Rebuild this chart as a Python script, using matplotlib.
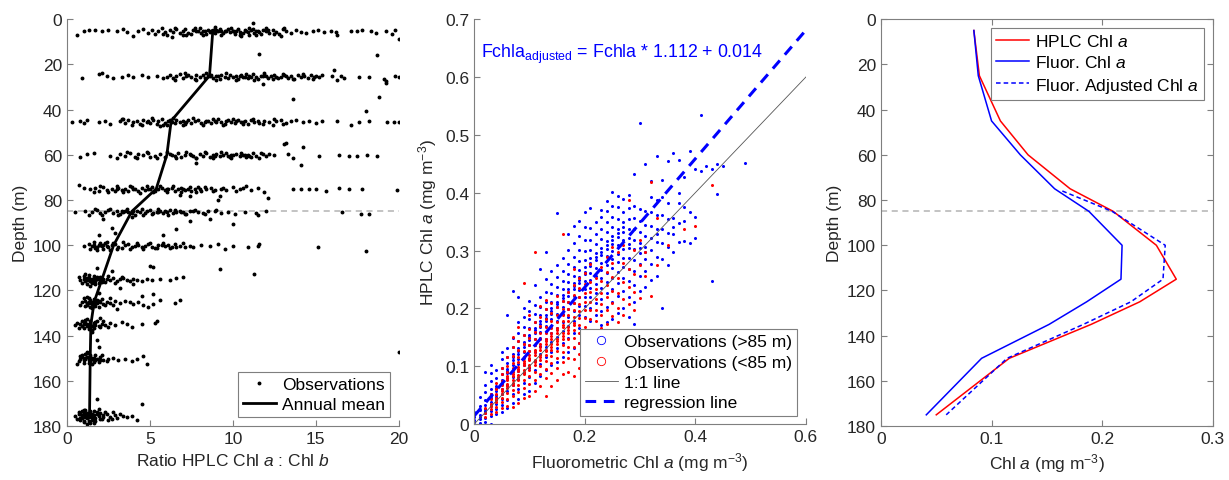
import matplotlib
matplotlib.use("Agg")
import matplotlib.pyplot as plt
from matplotlib.lines import Line2D

plt.rcParams['font.family'] = ['Liberation Sans', 'DejaVu Sans']
plt.rcParams['mathtext.fontset'] = 'custom'
plt.rcParams['mathtext.rm'] = 'Liberation Sans'
plt.rcParams['mathtext.it'] = 'Liberation Sans:italic'
plt.rcParams['font.size'] = 12.5

# ---- left panel: Chl a : Chl b ratio observations (ratio, depth) ----
obs_5 = [(0.6,6.8),(1.0,5.2),(1.3,4.6),(1.7,4.9),(2.1,5.1),(2.5,4.7),(3.0,5.0),(3.4,4.4),(3.6,5.6),(4.0,7.3),
         (4.3,5.0),(4.6,4.2),(4.9,5.9),(5.1,4.6),(5.3,6.4),(5.5,5.2),(5.7,3.9),(5.9,5.5),(6.0,7.0),(6.2,4.8),
         (6.4,5.8),(6.6,4.3),(6.8,6.1),(7.0,5.0),(7.1,4.5),(7.3,5.9),(7.5,6.4),(7.6,4.7),(7.8,5.4),(8.0,4.1),
         (8.1,6.0),(8.3,5.1),(8.5,4.6),(8.6,5.7),(8.8,4.9),(8.9,6.3),(9.1,5.3),(9.2,4.4),(9.4,6.1),(9.5,5.0),
         (9.7,4.2),(9.8,5.8),(10.0,5.1),(10.1,6.7),(10.3,4.5),(10.4,5.5),(10.6,6.2),(10.7,4.8),(10.9,5.6),(11.0,7.2),
         (11.2,4.3),(11.3,5.9),(11.5,5.0),(11.7,6.5),(11.8,4.6),(12.0,5.4),(12.2,6.0),(12.4,4.9),(12.6,5.6),(12.8,6.6),
         (13.0,4.5),(13.2,5.3),(13.5,5.9),(13.8,4.8),(14.1,5.5),(14.4,6.0),(14.8,5.0),(15.1,4.6),(15.5,5.7),(15.9,5.2),
         (16.2,5.5),(16.3,6.9),(17.1,5.0),(17.5,5.1),(17.8,4.7),(18.3,5.4),(18.6,5.9),(19.2,5.2),(19.6,6.6),(19.8,4.9),
         (20.0,8.6),(8.7,5.2),(9.0,4.6),(9.6,5.4),(10.2,5.0),(10.8,5.3),(11.1,4.9),(11.6,5.5),(12.1,4.7),(7.9,5.0),
         (8.4,6.6),(10.5,7.6),(12.9,7.3),(7.2,7.1),(6.3,7.9),(11.2,1.8),(11.6,15.3),(18.7,15.8),
         (7.0,6.8),(7.7,3.7),(8.2,6.9),(8.9,3.6),(9.3,7.0),(9.9,3.8),(10.4,6.8),(11.0,3.9),(11.4,6.9),(12.0,3.9),
         (12.5,6.4),(13.1,4.1),(6.5,3.8),(5.8,6.6),(10.0,5.4),(9.3,5.2),(8.2,5.3),(11.4,5.1)]
obs_25 = [(0.9,25.8),(1.9,24.4),(2.1,23.9),(2.4,25.2),(2.8,25.9),(3.3,25.4),(3.7,24.9),(4.0,25.5),(4.5,24.8),(4.9,25.6),
          (5.4,25.0),(5.8,26.2),(6.0,25.4),(6.2,24.6),(6.4,25.8),(6.6,25.1),(6.8,24.3),(7.0,26.0),(7.2,25.3),(7.3,24.7),
          (7.5,25.6),(7.7,26.4),(7.8,24.9),(8.0,25.5),(8.2,24.5),(8.3,26.1),(8.5,25.2),(8.7,24.8),(8.8,25.9),(9.0,25.3),
          (9.2,26.6),(9.3,24.6),(9.5,25.4),(9.7,26.0),(9.8,24.9),(10.0,25.6),(10.2,25.1),(10.3,26.3),(10.5,24.7),(10.7,25.5),
          (10.9,26.1),(11.0,25.0),(11.2,24.4),(11.4,25.7),(11.5,26.5),(11.7,25.2),(11.9,24.8),(12.1,25.9),(12.3,25.3),(12.5,24.5),
          (12.7,26.0),(12.9,25.4),(13.1,24.9),(13.3,25.8),(13.5,25.1),(13.7,26.3),(13.9,24.6),(14.1,25.5),(14.3,25.0),(14.5,26.1),
          (14.7,24.7),(14.9,25.4),(15.2,25.7),(15.4,24.5),(16.0,25.3),(16.3,26.8),(16.5,25.0),(16.7,25.9),(17.6,25.4),(18.2,25.6),
          (19.1,26.4),(19.8,25.2),(20.0,25.6),(9.1,25.0),(10.4,25.2),(11.1,25.6),(11.8,25.1),(12.6,25.5),(8.6,25.3),(13.2,25.2),
          (11.8,28.8),(16.1,22.4),(19.2,27.2),(19.2,28.3),(13.6,35.3),(18.8,34.6),(18.0,40.5),
          (6.5,26.7),(7.1,24.0),(7.8,26.8),(8.4,23.9),(9.0,26.7),(9.6,24.0),(10.2,26.9),(10.8,24.1),(11.3,26.8),(11.9,24.0),
          (12.4,26.6),(13.0,24.2),(13.6,26.6),(14.2,24.3),(14.8,26.3),(15.0,25.1),(12.0,25.3),(10.6,25.4)]
obs_45 = [(0.3,45.6),(0.8,44.9),(1.0,45.9),(1.2,44.6),(1.9,45.5),(2.3,44.9),(2.6,46.4),(3.2,45.1),(3.4,44.2),(3.5,46.0),
          (3.7,44.7),(4.0,45.6),(4.2,45.0),(4.4,46.3),(4.6,44.6),(4.8,45.4),(5.0,45.9),(5.2,44.5),(5.4,46.2),(5.5,45.1),
          (5.7,44.3),(5.9,45.7),(6.0,46.6),(6.2,44.8),(6.3,45.3),(6.5,46.0),(6.6,44.4),(6.8,45.5),(7.0,45.0),(7.1,46.3),
          (7.3,44.7),(7.5,45.8),(7.7,45.2),(7.9,44.5),(8.1,46.0),(8.3,45.4),(8.5,44.9),(8.7,45.9),(8.9,45.1),(9.1,44.3),
          (9.3,45.6),(9.5,46.4),(9.7,44.8),(9.9,45.3),(10.1,46.1),(10.3,44.6),(10.5,45.5),(10.7,45.0),(10.9,46.2),(11.1,44.7),
          (11.3,45.4),(11.6,45.9),(11.9,44.9),(12.2,45.6),(12.4,47.0),(12.6,45.2),(12.9,44.6),(13.2,45.7),(13.5,45.1),(13.8,44.5),
          (14.2,45.5),(14.6,45.0),(15.0,45.7),(15.4,45.2),(16.3,45.0),(17.1,47.0),(17.6,45.5),(18.2,45.2),(19.3,45.3),(19.7,45.6),
          (20.0,45.4),(6.1,45.2),(7.2,45.4),(8.4,45.0),(9.6,45.2),(10.6,45.3),(4.9,44.9),(5.6,47.2),(13.2,54.9),(14.2,56.5),
          (4.5,46.9),(5.1,43.9),(5.8,46.8),(6.4,43.8),(7.0,46.9),(7.6,43.9),(8.2,46.7),(8.8,44.0),(9.4,46.6),(10.0,44.1),
          (10.6,46.5),(11.2,44.2),(11.8,46.4),(12.5,44.3),(13.0,46.2),(9.0,45.5),(10.2,45.0),(11.5,45.2),(3.9,46.7),(3.3,44.1)]
obs_60 = [(0.8,61.1),(1.2,59.6),(1.6,59.0),(2.6,60.3),(3.2,59.7),(3.5,60.6),(3.8,59.2),(4.1,60.9),(4.3,59.5),(4.6,60.2),
          (4.9,59.0),(5.0,61.1),(5.3,60.4),(5.6,59.6),(5.9,60.8),(6.2,59.8),(6.5,60.5),(6.7,59.3),(6.9,60.9),(7.1,60.1),
          (7.4,59.5),(7.6,60.6),(7.8,61.5),(8.0,59.8),(8.2,60.4),(8.4,59.3),(8.6,60.9),(8.8,60.0),(9.0,59.5),(9.2,60.7),
          (9.4,60.2),(9.6,59.4),(9.8,60.8),(10.0,60.1),(10.2,59.6),(10.4,60.5),(10.6,59.9),(10.8,60.9),(11.0,60.3),(11.2,59.2),
          (11.4,60.7),(11.6,61.2),(11.8,59.8),(12.0,60.4),(12.2,59.6),(12.5,60.2),(13.1,55.0),(13.3,59.5),(13.6,61.3),(14.1,64.7),
          (15.2,60.5),(16.4,60.2),(17.0,60.6),(17.5,60.4),(18.1,60.0),(18.7,60.3),(7.8,63.5),(8.9,60.3),(9.9,59.9),(10.9,60.2),
          (3.0,61.4),(3.6,58.8),(4.2,61.6),(4.8,58.7),(5.4,61.5),(6.0,58.9),(6.6,61.4),(7.2,58.8),(7.8,61.3),(8.3,58.9),
          (8.8,61.2),(9.3,58.9),(9.9,61.2),(10.5,59.1),(11.1,61.0),(11.7,59.3),(6.3,60.2),(7.5,60.0),(9.7,60.4),(10.7,60.0)]
obs_75 = [(0.7,73.5),(1.0,74.8),(1.4,75.3),(1.7,74.5),(1.9,75.9),(2.2,74.2),(2.4,75.4),(2.7,75.0),(2.9,76.1),(3.1,74.6),
          (3.3,75.5),(3.5,74.9),(3.7,75.8),(3.9,74.3),(4.1,75.2),(4.3,76.0),(4.5,74.7),(4.7,75.6),(4.9,75.0),(5.1,74.4),
          (5.3,75.9),(5.5,75.3),(5.7,74.8),(5.9,75.7),(6.1,75.1),(6.3,74.5),(6.5,76.2),(6.7,75.0),(6.9,74.6),(7.1,75.5),
          (7.3,74.9),(7.5,76.0),(7.7,75.2),(7.9,74.4),(8.1,75.8),(8.4,75.1),(8.7,74.6),(8.9,75.5),(9.1,80.0),(9.2,78.3),
          (9.3,75.0),(9.6,75.6),(10.0,74.2),(10.4,75.3),(10.8,73.9),(11.1,75.4),(11.5,74.7),(11.9,76.4),(12.1,79.0),(13.6,75.0),
          (14.1,75.0),(14.6,75.3),(15.0,75.1),(15.6,75.8),(16.4,74.6),(17.0,74.9),(17.8,75.0),(19.9,75.5),(7.4,78.2),(6.8,77.6),
          (5.0,75.3),(6.0,74.9),(7.0,75.2),(8.0,75.0),(4.0,74.9),(3.0,75.2),
          (1.6,76.4),(2.0,73.9),(2.5,76.6),(3.0,73.8),(3.4,76.5),(3.8,73.9),(4.4,76.7),(4.8,74.0),(5.2,76.4),(5.6,73.7),
          (6.0,76.5),(6.4,74.0),(6.9,76.3),(7.4,74.1),(7.8,76.4),(8.3,74.2),(8.8,76.1),(9.4,74.5),(10.2,76.0),(10.6,74.6)]
obs_85 = [(0.5,85.5),(1.1,85.0),(1.5,85.3),(1.8,84.6),(2.0,85.8),(2.3,85.2),(2.5,84.4),(2.8,85.6),(3.0,85.0),(3.2,86.2),
          (3.5,84.7),(3.7,85.4),(3.9,85.9),(4.2,84.8),(4.4,85.3),(4.6,86.4),(4.8,85.0),(5.0,84.5),(5.2,85.7),(5.4,85.1),
          (5.6,84.8),(5.8,85.6),(6.0,85.2),(6.2,84.6),(6.4,85.8),(6.6,85.1),(6.8,84.7),(7.0,85.5),(7.2,86.0),(7.4,85.0),
          (7.6,84.8),(7.9,85.4),(8.2,85.9),(8.5,85.0),(8.9,84.9),(9.3,85.6),(9.7,85.1),(10.1,86.2),(10.7,85.3),(11.4,85.8),
          (11.5,86.7),(12.0,85.0),(16.6,85.4),(17.7,86.0),(18.2,86.2),(2.2,88.3),(3.9,87.6),(7.4,89.2),(8.6,88.5),(10.0,90.5),
          (2.7,92.2),(6.6,92.7),(2.9,94.4),(1.9,95.5),(5.8,95.3),(3.4,85.2),(4.0,85.0),(5.5,85.3),(6.5,85.0),
          (1.3,86.4),(1.7,84.0),(2.1,86.6),(2.6,83.9),(3.1,86.5),(3.6,84.0),(4.1,86.7),(4.5,84.1),(5.1,86.3),(5.5,84.0),
          (6.1,86.5),(6.5,84.2),(7.1,86.2),(7.7,84.3),(8.3,86.1),(9.0,84.5),(3.3,84.9),(4.7,85.6),(5.9,85.0),(6.9,85.3)]
obs_100 = [(1.0,100.5),(1.3,99.5),(1.5,100.2),(1.7,101.0),(1.9,99.7),(2.1,100.4),(2.3,99.2),(2.5,100.8),(2.7,100.1),(2.9,99.6),
           (3.1,100.6),(3.3,101.2),(3.5,100.0),(3.7,99.4),(3.9,100.7),(4.1,100.2),(4.3,99.8),(4.5,100.9),(4.7,100.3),(4.9,99.5),
           (5.1,100.6),(5.3,101.3),(5.5,100.1),(5.7,99.7),(5.9,100.5),(6.1,100.0),(6.3,100.8),(6.5,99.6),(6.8,100.3),(7.1,100.9),
           (7.4,100.2),(8.1,100.0),(8.6,100.3),(9.1,99.5),(9.5,101.5),(10.0,100.5),(10.9,100.7),(11.5,100.5),(11.6,99.5),(15.1,100.9),
           (18.0,102.5),(9.2,110.3),(11.3,112.5),(5.2,109.7),(5.0,109.0),(1.6,99.9),(2.0,100.1),(2.4,100.3),(1.8,100.6),(2.2,99.8),
           (1.4,101.8),(1.6,98.6),(1.8,102.0),(2.0,98.8),(2.2,101.6),(2.4,98.5),(2.6,101.9),(2.8,98.9),(3.0,101.7),(3.4,98.7),
           (3.8,101.5),(4.2,98.9),(4.6,101.6),(5.0,98.8),(5.4,101.4),(5.8,99.0),(6.2,101.3),(6.6,100.9),(7.0,99.2),(7.6,100.6)]
obs_115 = [(0.8,115.5),(1.0,114.8),(1.1,115.9),(1.2,115.2),(1.3,114.6),(1.4,116.0),(1.5,115.3),(1.6,114.9),(1.7,115.7),(1.8,115.0),
           (1.9,114.4),(2.0,115.6),(2.1,116.2),(2.2,115.1),(2.4,114.7),(2.6,115.5),(2.8,114.5),(3.0,115.8),(3.2,115.0),(3.4,114.6),
           (3.6,115.4),(3.8,115.9),(4.0,114.8),(4.2,115.3),(4.5,115.6),(4.8,114.7),(5.1,115.2),(5.6,115.0),(6.2,115.3),(6.6,114.5),
           (7.0,114.2),(1.8,110.0),(2.7,111.5),(4.0,117.2),(3.2,119.1),(1.1,115.0),(1.3,115.4),(1.5,114.7),(1.2,114.3),(1.4,115.6),
           (0.9,116.8),(1.0,113.6),(1.2,117.0),(1.3,113.2),(1.5,116.6),(1.6,113.7),(1.7,117.2),(1.9,116.5),(2.0,113.9),(2.3,116.4),
           (2.5,113.6),(0.7,114.2),(1.1,112.8),(1.4,117.8),(2.9,116.6),(3.3,113.9),(1.6,116.0),(1.8,114.0)]
obs_125 = [(0.9,125.3),(1.1,124.7),(1.2,125.6),(1.3,125.0),(1.4,124.4),(1.5,125.8),(1.6,125.2),(1.7,124.8),(1.8,125.5),(1.9,124.6),
           (2.0,125.1),(2.2,125.9),(2.4,124.9),(2.6,125.4),(2.9,124.7),(3.2,125.6),(3.5,124.5),(3.8,125.2),(4.0,126.0),(4.3,125.3),
           (4.6,126.3),(5.2,126.0),(5.6,124.2),(6.5,125.5),(6.8,124.4),(4.5,122.5),(5.2,121.5),(3.0,128.0),(1.9,121.0),(4.9,127.5),
           (1.3,125.5),(1.5,124.9),(1.6,125.6),(1.4,125.1),
           (0.8,126.6),(1.0,123.5),(1.1,126.9),(1.3,123.2),(1.4,127.1),(1.6,123.6),(1.7,126.7),(1.9,127.3),(2.1,123.8),(2.3,126.5),
           (2.6,123.4),(1.2,122.7),(1.5,127.8),(2.8,126.4),(1.8,124.0),(1.2,126.2)]
obs_135 = [(0.5,135.3),(0.8,134.7),(0.9,135.6),(1.0,135.0),(1.1,134.4),(1.2,135.8),(1.3,135.2),(1.4,134.8),(1.5,135.5),(1.6,134.6),
           (1.7,135.1),(1.9,135.7),(2.1,134.9),(2.3,135.4),(2.6,134.5),(2.9,135.2),(3.3,133.8),(3.6,134.9),(3.9,136.0),(4.5,135.0),
           (5.3,134.5),(5.4,133.7),(1.5,138.5),(1.8,142.0),(2.0,132.0),(1.2,134.9),(1.3,135.6),(1.4,135.3),
           (0.7,136.5),(0.9,133.4),(1.0,136.8),(1.1,133.0),(1.3,137.0),(1.4,133.5),(1.6,136.6),(1.8,133.7),(2.0,136.3),(2.2,133.6),
           (2.5,136.2),(1.2,132.6),(1.5,137.6),(0.6,134.2),(1.7,134.0)]
obs_150 = [(0.6,152.5),(0.8,150.3),(0.9,149.6),(1.0,150.9),(1.1,150.1),(1.2,149.4),(1.3,150.6),(1.4,151.2),(1.5,150.0),(1.6,149.7),
           (1.7,150.8),(1.8,150.2),(2.0,149.5),(2.2,150.7),(2.5,150.1),(2.8,149.8),(3.1,150.9),(3.5,150.4),(3.9,151.0),(4.2,150.5),
           (4.8,152.3),(4.6,149.0),(1.2,147.5),(1.9,145.0),(20.0,147.0),(1.3,150.0),(1.5,150.5),(1.1,149.9),
           (0.7,151.4),(0.9,148.4),(1.0,151.9),(1.1,148.0),(1.3,152.1),(1.4,148.5),(1.6,151.6),(1.7,148.7),(1.9,151.5),(2.1,148.6),
           (2.4,151.3),(1.2,147.0),(1.5,152.6),(2.0,150.9),(0.8,149.0)]
obs_175 = [(0.5,175.5),(0.7,174.6),(0.8,176.2),(0.9,175.0),(1.0,174.2),(1.1,175.8),(1.2,176.6),(1.3,175.2),(1.4,174.4),(1.5,175.9),
           (1.6,175.0),(1.7,176.3),(1.8,174.7),(1.9,175.5),(2.0,177.0),(2.2,175.2),(2.4,174.5),(2.6,175.8),(2.9,175.1),(3.2,174.7),
           (3.6,176.0),(3.9,175.4),(4.2,177.2),(2.7,176.8),(1.0,173.0),(1.6,178.5),(1.2,179.0),(1.9,172.5),(4.5,170.0),(1.8,168.0),
           (1.1,174.9),(1.3,176.0),(1.5,174.8),(1.4,175.6),(1.2,175.3),(0.9,176.4),
           (0.6,176.8),(0.7,173.6),(0.8,177.5),(0.9,173.3),(1.0,177.8),(1.1,172.9),(1.3,177.6),(1.4,173.1),(1.5,177.4),(1.6,173.4),
           (1.7,177.9),(1.8,173.6),(2.0,174.0),(2.1,176.7),(2.3,173.8),(2.5,177.1),(2.8,173.9),(3.0,176.5),(3.4,175.6),(1.2,174.0),
           (1.6,176.8),(0.8,174.5),(2.2,176.0),(1.0,178.3),(1.4,178.8)]

mean_depth = [5, 25, 45, 60, 75, 85, 100, 115, 125, 135, 150, 175]
mean_ratio = [8.79, 8.59, 6.28, 6.02, 5.38, 3.91, 2.81, 2.11, 1.64, 1.44, 1.40, 1.36]

# ---- middle panel: columns of (fluorometric Chl a, [HPLC Chl a values]) ----
deep_cols = [
    (0.00, [0.003, 0.012, 0.021, 0.008]),
    (0.01, [0.002, 0.009, 0.016, 0.024, 0.031, 0.047, 0.013]),
    (0.02, [0.004, 0.011, 0.019, 0.027, 0.034, 0.042, 0.055, 0.068, 0.091, 0.023]),
    (0.03, [0.0, 0.014, 0.022, 0.031, 0.038, 0.045, 0.053, 0.061, 0.074, 0.088, 0.102, 0.049]),
    (0.04, [0.018, 0.026, 0.035, 0.043, 0.051, 0.058, 0.066, 0.079, 0.093, 0.047, 0.062]),
    (0.05, [0.021, 0.033, 0.044, 0.052, 0.061, 0.069, 0.077, 0.086, 0.098, 0.112, 0.125, 0.072]),
    (0.06, [0.028, 0.041, 0.057, 0.068, 0.079, 0.088, 0.096, 0.105, 0.117, 0.131, 0.188, 0.092]),
    (0.07, [0.036, 0.052, 0.067, 0.081, 0.093, 0.102, 0.111, 0.121, 0.134, 0.149, 0.231, 0.116]),
    (0.08, [0.044, 0.061, 0.078, 0.092, 0.104, 0.113, 0.122, 0.131, 0.143, 0.158, 0.176, 0.219, 0.127]),
    (0.09, [0.053, 0.072, 0.089, 0.103, 0.115, 0.124, 0.133, 0.142, 0.154, 0.168, 0.185, 0.201, 0.138]),
    (0.10, [0.058, 0.081, 0.098, 0.113, 0.126, 0.137, 0.146, 0.155, 0.167, 0.181, 0.196, 0.213, 0.151]),
    (0.11, [0.071, 0.094, 0.109, 0.124, 0.137, 0.148, 0.157, 0.166, 0.177, 0.191, 0.206, 0.241, 0.162]),
    (0.12, [0.083, 0.104, 0.121, 0.136, 0.149, 0.159, 0.168, 0.178, 0.189, 0.202, 0.219, 0.268, 0.173]),
    (0.13, [0.094, 0.116, 0.133, 0.147, 0.159, 0.169, 0.179, 0.188, 0.199, 0.212, 0.228, 0.251, 0.297, 0.184]),
    (0.14, [0.102, 0.124, 0.142, 0.157, 0.169, 0.181, 0.191, 0.201, 0.212, 0.226, 0.243, 0.264, 0.196]),
    (0.15, [0.108, 0.131, 0.151, 0.166, 0.179, 0.191, 0.202, 0.212, 0.223, 0.237, 0.254, 0.276, 0.365, 0.207]),
    (0.16, [0.117, 0.141, 0.161, 0.177, 0.190, 0.202, 0.213, 0.223, 0.234, 0.248, 0.265, 0.287, 0.218]),
    (0.17, [0.124, 0.149, 0.169, 0.186, 0.199, 0.211, 0.222, 0.233, 0.245, 0.259, 0.277, 0.301, 0.329, 0.228]),
    (0.18, [0.132, 0.158, 0.179, 0.196, 0.209, 0.221, 0.233, 0.244, 0.256, 0.271, 0.289, 0.313, 0.342, 0.239]),
    (0.19, [0.141, 0.167, 0.188, 0.205, 0.219, 0.232, 0.244, 0.255, 0.267, 0.282, 0.301, 0.326, 0.352, 0.250]),
    (0.20, [0.136, 0.162, 0.185, 0.204, 0.220, 0.234, 0.247, 0.259, 0.271, 0.284, 0.299, 0.318, 0.341, 0.367, 0.263]),
    (0.21, [0.154, 0.179, 0.201, 0.219, 0.235, 0.249, 0.262, 0.274, 0.287, 0.301, 0.318, 0.339, 0.374, 0.278]),
    (0.22, [0.163, 0.188, 0.209, 0.227, 0.243, 0.257, 0.270, 0.283, 0.296, 0.311, 0.328, 0.349, 0.289]),
    (0.23, [0.171, 0.196, 0.217, 0.236, 0.252, 0.266, 0.279, 0.292, 0.305, 0.320, 0.337, 0.358, 0.371, 0.297]),
    (0.24, [0.176, 0.203, 0.226, 0.245, 0.261, 0.276, 0.290, 0.303, 0.317, 0.332, 0.349, 0.368, 0.386, 0.309]),
    (0.25, [0.181, 0.211, 0.234, 0.253, 0.270, 0.285, 0.299, 0.312, 0.326, 0.341, 0.358, 0.378, 0.401, 0.318]),
    (0.26, [0.192, 0.221, 0.244, 0.263, 0.280, 0.295, 0.309, 0.323, 0.338, 0.355, 0.376, 0.394, 0.330]),
    (0.27, [0.201, 0.230, 0.252, 0.271, 0.288, 0.303, 0.318, 0.333, 0.349, 0.367, 0.389, 0.341]),
    (0.28, [0.186, 0.219, 0.247, 0.269, 0.288, 0.305, 0.321, 0.337, 0.354, 0.373, 0.397, 0.312]),
    (0.29, [0.174, 0.212, 0.241, 0.264, 0.284, 0.302, 0.319, 0.337, 0.356, 0.378, 0.432]),
    (0.30, [0.231, 0.256, 0.277, 0.296, 0.314, 0.332, 0.351, 0.372, 0.521, 0.305]),
    (0.31, [0.238, 0.264, 0.286, 0.306, 0.325, 0.345, 0.368, 0.449, 0.298]),
    (0.32, [0.249, 0.277, 0.301, 0.322, 0.343, 0.366, 0.392, 0.421]),
    (0.33, [0.257, 0.289, 0.315, 0.338, 0.361, 0.387, 0.463, 0.329]),
    (0.34, [0.201, 0.286, 0.314, 0.337, 0.361, 0.392, 0.422]),
    (0.35, [0.276, 0.306, 0.331, 0.355, 0.382, 0.455]),
    (0.36, [0.298, 0.329, 0.357, 0.469, 0.341]),
    (0.37, [0.315, 0.348, 0.383, 0.456, 0.399]),
    (0.38, [0.316, 0.351, 0.376, 0.428]),
    (0.39, [0.313, 0.367, 0.473]),
    (0.40, [0.322, 0.358, 0.441]),
    (0.41, [0.437, 0.534]),
    (0.42, [0.447]),
    (0.43, [0.248, 0.441]),
    (0.44, [0.398, 0.449]),
    (0.45, [0.447]),
    (0.49, [0.451]),
]
shallow_cols = [
    (0.02, [0.012, 0.028, 0.019]),
    (0.03, [0.018, 0.027, 0.035, 0.044, 0.052, 0.031]),
    (0.04, [0.021, 0.030, 0.038, 0.045, 0.052, 0.060, 0.071, 0.041]),
    (0.05, [0.028, 0.038, 0.046, 0.053, 0.060, 0.067, 0.075, 0.086, 0.097, 0.057]),
    (0.06, [0.031, 0.044, 0.054, 0.062, 0.069, 0.076, 0.083, 0.091, 0.101, 0.117, 0.066, 0.079]),
    (0.07, [0.029, 0.048, 0.059, 0.068, 0.076, 0.083, 0.090, 0.097, 0.106, 0.118, 0.134, 0.151, 0.072, 0.087]),
    (0.08, [0.037, 0.055, 0.067, 0.077, 0.085, 0.092, 0.099, 0.107, 0.116, 0.128, 0.143, 0.168, 0.081, 0.096]),
    (0.09, [0.046, 0.063, 0.076, 0.086, 0.094, 0.102, 0.109, 0.117, 0.127, 0.139, 0.154, 0.244, 0.091, 0.106]),
    (0.10, [0.049, 0.069, 0.083, 0.094, 0.103, 0.111, 0.119, 0.127, 0.137, 0.149, 0.165, 0.188, 0.099, 0.115]),
    (0.11, [0.058, 0.077, 0.091, 0.102, 0.111, 0.120, 0.128, 0.137, 0.147, 0.159, 0.176, 0.298, 0.108, 0.124]),
    (0.12, [0.066, 0.086, 0.100, 0.111, 0.120, 0.129, 0.138, 0.147, 0.157, 0.169, 0.186, 0.205, 0.117, 0.134]),
    (0.13, [0.048, 0.079, 0.096, 0.109, 0.120, 0.129, 0.138, 0.147, 0.157, 0.168, 0.181, 0.199, 0.214, 0.126, 0.143]),
    (0.14, [0.066, 0.089, 0.105, 0.118, 0.129, 0.138, 0.147, 0.157, 0.167, 0.178, 0.192, 0.209, 0.134, 0.152]),
    (0.15, [0.076, 0.098, 0.114, 0.127, 0.138, 0.148, 0.157, 0.167, 0.177, 0.188, 0.202, 0.221, 0.143, 0.162]),
    (0.16, [0.086, 0.107, 0.124, 0.137, 0.148, 0.158, 0.168, 0.178, 0.188, 0.199, 0.213, 0.329, 0.153, 0.172]),
    (0.17, [0.091, 0.115, 0.133, 0.147, 0.158, 0.168, 0.178, 0.188, 0.199, 0.212, 0.228, 0.163]),
    (0.18, [0.083, 0.112, 0.133, 0.149, 0.163, 0.175, 0.186, 0.197, 0.209, 0.223, 0.241, 0.268, 0.171]),
    (0.19, [0.098, 0.122, 0.141, 0.157, 0.171, 0.183, 0.195, 0.207, 0.220, 0.235, 0.252]),
    (0.20, [0.107, 0.131, 0.151, 0.168, 0.183, 0.197, 0.211, 0.226, 0.243, 0.262]),
    (0.21, [0.118, 0.142, 0.163, 0.181, 0.197, 0.212, 0.228, 0.246, 0.277]),
    (0.22, [0.127, 0.156, 0.179, 0.198, 0.216, 0.234, 0.253]),
    (0.23, [0.138, 0.166, 0.188, 0.207, 0.226, 0.247, 0.271]),
    (0.24, [0.131, 0.174, 0.198, 0.219, 0.241, 0.263, 0.289]),
    (0.25, [0.158, 0.187, 0.209, 0.231, 0.254, 0.278, 0.306]),
    (0.26, [0.176, 0.201, 0.226, 0.252, 0.297]),
    (0.27, [0.188, 0.217, 0.246, 0.279, 0.309]),
    (0.28, [0.207, 0.237, 0.268, 0.388]),
    (0.29, [0.198, 0.228, 0.259, 0.301]),
    (0.30, [0.218, 0.276, 0.318]),
    (0.31, [0.257, 0.298]),
    (0.32, [0.221, 0.418]),
    (0.33, [0.276, 0.357]),
    (0.35, [0.309]),
    (0.38, [0.337]),
    (0.40, [0.343]),
    (0.43, [0.413]),
]
one_to_one = [0.0, 0.6]
reg_x = [0.0, 0.6]
reg_y = [0.014, 0.681]

# ---- right panel: mean profiles ----
prof_depth = [5, 25, 45, 60, 75, 85, 100, 115, 125, 135, 150, 175]
hplc_chl = [0.084, 0.089, 0.108, 0.133, 0.171, 0.210, 0.249, 0.267, 0.234, 0.190, 0.116, 0.050]
fluor_chl = [0.084, 0.088, 0.100, 0.126, 0.157, 0.188, 0.218, 0.217, 0.186, 0.152, 0.091, 0.041]
adj_depth = [76, 85, 100, 115, 125, 135, 150, 175]
adj_chl = [0.164, 0.209, 0.257, 0.255, 0.226, 0.183, 0.114, 0.059]

TXT = '#262626'
SPINE = '#7f7f7f'
LEG = dict(fancybox=False, edgecolor=SPINE, framealpha=1, borderaxespad=0.5,
           handlelength=1.9, handletextpad=0.35, borderpad=0.3, labelspacing=0.3)


def style(ax, box=False):
    for s in ['top', 'right']:
        ax.spines[s].set_visible(box)
    for s in ax.spines.values():
        s.set_color(SPINE)
        s.set_linewidth(0.8)
    ax.tick_params(direction='in', length=4, color=SPINE, labelcolor=TXT, labelsize=12.5,
                   top=box, right=box)


fig = plt.figure(figsize=(12.29, 4.81), dpi=100)
ax1 = fig.add_axes([0.0545, 0.112, 0.270, 0.846])
ax2 = fig.add_axes([0.3857, 0.116, 0.270, 0.842])
ax3 = fig.add_axes([0.7168, 0.112, 0.270, 0.846])

# left
rows = [obs_5, obs_25, obs_45, obs_60, obs_75, obs_85, obs_100, obs_115, obs_125, obs_135, obs_150, obs_175]
ox = [p[0] for r in rows for p in r]
oy = [p[1] for r in rows for p in r]
ax1.axhline(85, color='#b3b3b3', ls=(0, (4, 3)), lw=1.1, zorder=0)
ax1.plot(ox, oy, 'k.', ms=3.6, label='Observations')
ax1.plot(mean_ratio, mean_depth, 'k-', lw=2, label='Annual mean')
ax1.set_xlim(0, 20)
ax1.set_ylim(180, 0)
ax1.set_xticks([0, 5, 10, 15, 20])
ax1.set_yticks(range(0, 181, 20))
ax1.set_xlabel('Ratio HPLC Chl $\\mathit{a}$ : Chl $\\mathit{b}$', color=TXT)
ax1.set_ylabel('Depth (m)', color=TXT)
style(ax1)
leg = ax1.legend(loc='lower right', fontsize=12.5, **LEG)
leg.get_frame().set_linewidth(0.8)

# middle
bx = [c[0] for c in deep_cols for _ in c[1]]
by = [v for c in deep_cols for v in c[1]]
rx = [c[0] for c in shallow_cols for _ in c[1]]
ry = [v for c in shallow_cols for v in c[1]]
ax2.plot(bx, by, '.', color='#0000ff', ms=2.4)
ax2.plot(rx, ry, '.', color='#ff0000', ms=2.4)
ax2.plot(one_to_one, one_to_one, color='#555555', lw=0.6)
ax2.plot(reg_x, reg_y, color='#0000ff', lw=2.2, ls=(0, (3.5, 2.5)))
ax2.text(0.012, 0.635, 'Fchla$_{\\mathrm{adjusted}}$ = Fchla * 1.112 + 0.014', color='#0000ff', fontsize=12.8)
ax2.set_xlim(0, 0.6)
ax2.set_ylim(0, 0.7)
ax2.set_xticks([0, 0.2, 0.4, 0.6])
ax2.set_xticklabels(['0', '0.2', '0.4', '0.6'])
ax2.set_yticks([0, 0.1, 0.2, 0.3, 0.4, 0.5, 0.6, 0.7])
ax2.set_yticklabels(['0', '0.1', '0.2', '0.3', '0.4', '0.5', '0.6', '0.7'])
ax2.set_xlabel('Fluorometric Chl $\\mathit{a}$ (mg m$^{-3}$)', color=TXT)
ax2.set_ylabel('HPLC Chl $\\mathit{a}$ (mg m$^{-3}$)', color=TXT)
style(ax2)
handles = [Line2D([], [], ls='none', marker='o', mfc='none', mec='#0000ff', ms=6, mew=0.6),
           Line2D([], [], ls='none', marker='o', mfc='none', mec='#ff0000', ms=6, mew=0.6),
           Line2D([], [], color='#555555', lw=0.6),
           Line2D([], [], color='#0000ff', lw=2.2, ls=(0, (3.5, 2.5)))]
leg = ax2.legend(handles, ['Observations (>85 m)', 'Observations (<85 m)', '1:1 line', 'regression line'],
                 loc='lower right', fontsize=12.5, **LEG)
leg.get_frame().set_linewidth(0.8)

# right
ax3.axhline(85, color='#b3b3b3', ls=(0, (4, 3)), lw=1.1, zorder=0)
ax3.plot(hplc_chl, prof_depth, color='#ff0000', lw=1.1, label='HPLC Chl $\\mathit{a}$')
ax3.plot(fluor_chl, prof_depth, color='#0000ff', lw=1.1, label='Fluor. Chl $\\mathit{a}$')
ax3.plot(adj_chl, adj_depth, color='#0000ff', lw=1.1, ls=(0, (3, 2)), label='Fluor. Adjusted Chl $\\mathit{a}$')
ax3.set_xlim(0, 0.3)
ax3.set_ylim(180, 0)
ax3.set_xticks([0, 0.1, 0.2, 0.3])
ax3.set_xticklabels(['0', '0.1', '0.2', '0.3'])
ax3.set_yticks(range(0, 181, 20))
ax3.set_xlabel('Chl $\\mathit{a}$ (mg m$^{-3}$)', color=TXT)
ax3.set_ylabel('Depth (m)', color=TXT)
style(ax3, box=True)
leg = ax3.legend(loc='upper right', fontsize=12.5, **LEG)
leg.get_frame().set_linewidth(0.8)

fig.savefig('out.png', dpi=100)
